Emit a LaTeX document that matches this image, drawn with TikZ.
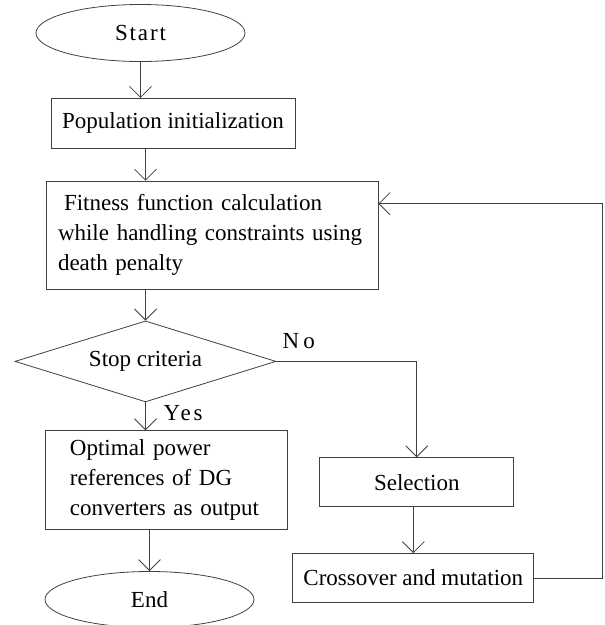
\documentclass[tikz,border=0pt]{standalone}
\usepackage{fontspec}
\setmainfont{Liberation Serif}
\usepackage{tikz}
\usetikzlibrary{arrows.meta, positioning, shapes.geometric}

\begin{document}
\begin{tikzpicture}[
  every node/.style={font=\fontsize{23}{30}\selectfont},
  block/.style={rectangle, draw=black!75, line width=0.8pt, inner sep=0pt, align=center},
  term/.style={ellipse, draw=black!75, line width=0.8pt, inner sep=0pt,
    minimum width=209pt, minimum height=57pt},
  decision/.style={diamond, draw=black!75, line width=0.8pt, inner sep=0pt, aspect=3.2,
    minimum width=261pt, minimum height=81pt},
  lbl/.style={inner sep=0pt},
  arrow/.style={-{Straight Barb[length=11pt,width=22pt]}, line width=0.8pt, black!75}
]
\useasboundingbox (0,0) rectangle (605pt,-625pt);

\node[term] (start) at (140.5pt,-33pt) {\addfontfeature{LetterSpace=8}Start};
\node[block, minimum width=244pt, minimum height=50pt,
  below=36pt of start, xshift=32.5pt] (pop) {Population initialization};
\node[block, minimum width=332pt, minimum height=108pt, text width=308pt, align=left,
  below=32pt of pop, xshift=39pt] (fit)
  {\hspace*{6pt}Fitness function calculation\\ while handling constraints using\\ death penalty};
\node[decision, below=31pt of fit, xshift=-66.5pt] (stop) {Stop criteria};
\node[block, minimum width=242pt, minimum height=99pt, text width=192pt, align=left,
  below=28pt of stop, xshift=20.5pt] (out)
  {Optimal power\\ references of DG\\ converters as output};
\node[term, minimum height=56pt, below=41pt of out, xshift=-16.5pt] (end) {End};
\node[block, minimum width=194pt, minimum height=49pt,
  right=32pt of out, yshift=-2pt] (sel) {Selection};
\node[block, minimum width=241pt, minimum height=49pt,
  below=46pt of sel, xshift=-3.5pt] (cross) {Crossover and mutation};

% labels of the decision
\node[lbl, anchor=base west] (no) at ([xshift=6pt,yshift=13pt]stop.east)
  {\addfontfeature{LetterSpace=18}No};
\node[lbl, anchor=base west] (yes) at ([xshift=18pt,yshift=-18pt]stop.south)
  {\addfontfeature{LetterSpace=12}Yes};

\draw[arrow] (start) -- (start |- pop.north);
\draw[arrow] (stop.north |- pop.south) -- (stop.north |- fit.north);
\draw[arrow] (stop.north |- fit.south) -- (stop.north);
\draw[arrow] (stop.south) -- (stop.south |- out.north);
\draw[arrow] (end.north |- out.south) -- (end.north);
\draw[arrow] (stop.east) -| (sel.north);
\draw[arrow] (sel.south -| cross.north) -- (cross.north);
\draw[arrow] (cross.east) -- ++(68pt,0) |- ([yshift=-23pt]fit.north east);
\end{tikzpicture}
\end{document}
